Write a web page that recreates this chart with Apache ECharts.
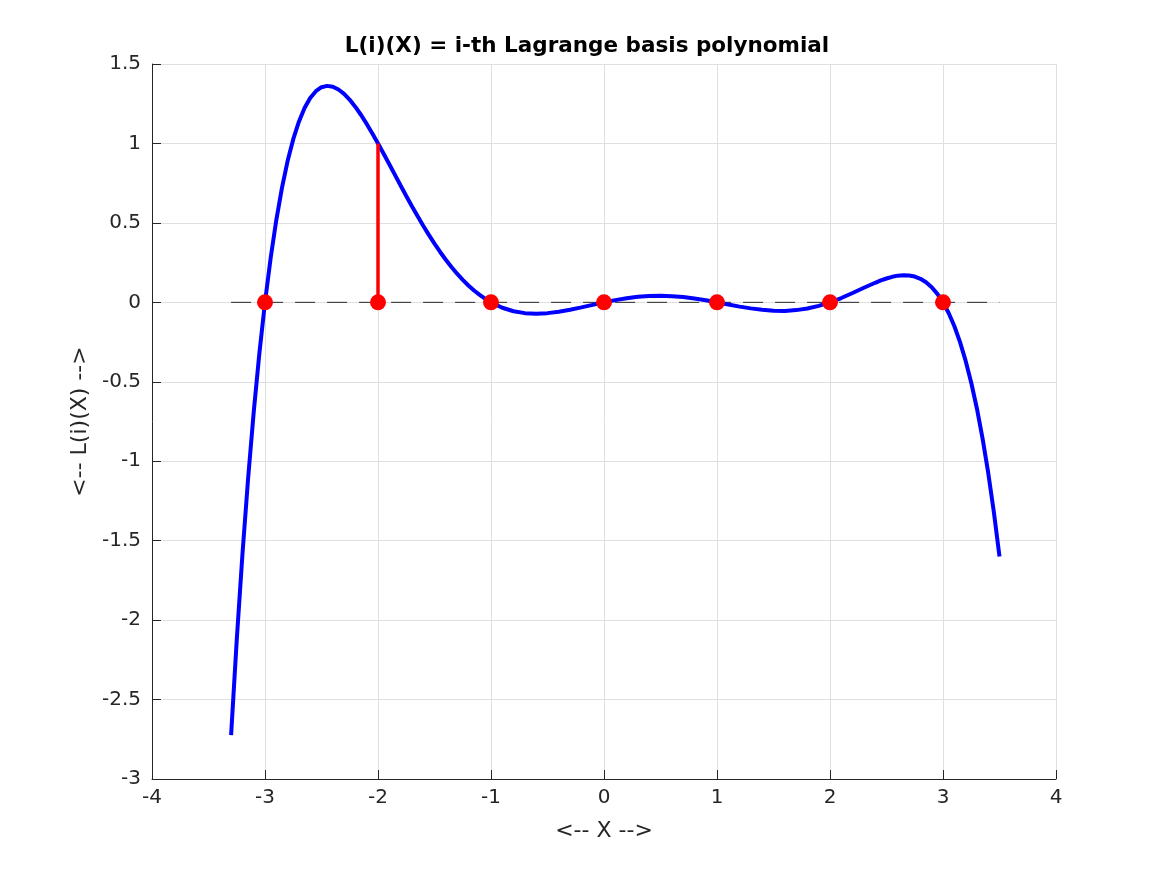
<!DOCTYPE html>
<html>
<head>
<meta charset="utf-8">
<script src="https://cdn.jsdelivr.net/npm/echarts@6/dist/echarts.min.js"></script>
<style>html,body{margin:0;padding:0;background:#fff}#c{width:1167px;height:875px}</style>
</head>
<body>
<div id="c"></div>
<script>
// Curve samples
const curveX = [-3.3,-3.25,-3.2,-3.15,-3.1,-3.05,-3.0,-2.95,-2.9,-2.85,-2.8,-2.75,-2.7,-2.65,-2.6,-2.55,-2.5,-2.45,-2.4,-2.35,-2.3,-2.25,-2.2,-2.15,-2.1,-2.05,-2.0,-1.95,-1.9,-1.85,-1.8,-1.75,-1.7,-1.65,-1.6,-1.55,-1.5,-1.45,-1.4,-1.35,-1.3,-1.25,-1.2,-1.15,-1.1,-1.05,-1.0,
  -0.9,-0.8,-0.7,-0.6,-0.5,-0.4,-0.3,-0.2,-0.1,0.0,0.1,0.2,0.3,0.4,0.5,0.6,0.7,0.8,0.9,1.0,1.1,1.2,1.3,1.4,1.5,1.6,1.7,1.8,1.9,2.0,2.1,2.2,2.3,2.4,
  2.45,2.5,2.55,2.6,2.65,2.7,2.75,2.8,2.85,2.9,2.95,3.0,3.05,3.1,3.15,3.2,3.25,3.3,3.35,3.4,3.45,3.5];
const curveY = [-2.724,-2.1245,-1.589,-1.1127,-0.692,-0.3224,0,0.2788,0.518,0.7199,0.889,1.0269,1.137,1.223,1.286,1.3287,1.354,1.3624,1.357,1.3397,1.312,1.2747,1.230,1.1791,1.123,1.063,1,0.935,0.869,0.802,0.735,0.6697,0.605,0.5427,0.482,0.4243,0.369,0.317,0.268,0.2225,0.180,0.1416,0.106,0.0747,0.047,0.0216,0,
  -0.034,-0.056,-0.068,-0.072,-0.068,-0.059,-0.047,-0.032,-0.016,0,0.014,0.026,0.035,0.040,0.041,0.039,0.033,0.024,0.013,0,-0.014,-0.027,-0.038,-0.047,-0.053,-0.054,-0.049,-0.039,-0.022,0,0.027,0.059,0.092,0.123,
  0.1378,0.150,0.1606,0.168,0.171,0.169,0.1621,0.148,0.1262,0.095,0.0535,0,-0.067,-0.149,-0.2485,-0.367,-0.5058,-0.668,-0.8562,-1.072,-1.3192,-1.600];
const nodeX = [-3,-2,-1,0,1,2,3];
const nodeY = [0,0,0,0,0,0,0];
const stemX = [-2,-2];
const stemY = [0,1];
const baseX = [-3.3,3.5];
const baseY = [0,0];
const xTicks = {min:-4,max:4,step:1};
const yTicks = {min:-3,max:1.5,step:0.5};
const titleText = 'L(i)(X) = i-th Lagrange basis polynomial';
const xLabel = '<-- X -->';
const yLabel = '<-- L(i)(X) -->';

const zip = (a,b) => a.map((v,i)=>[v,b[i]]);
const chart = echarts.init(document.getElementById('c'), null, {renderer:'canvas'});
const axisCommon = {
  axisLine:{show:true,onZero:false,lineStyle:{color:'#262626',width:1}},
  axisTick:{show:true,inside:true,length:9,lineStyle:{color:'#262626'}},
  splitLine:{show:true,lineStyle:{color:'#dfdfdf',width:1}},
  nameTextStyle:{color:'#262626',fontSize:22,fontFamily:'DejaVu Sans'}
};
chart.setOption({
  animation:false,
  backgroundColor:'#fff',
  title:{text:titleText,left:582,textAlign:'center',top:30,
    textStyle:{fontSize:21.5,fontWeight:'bold',color:'#000',fontFamily:'DejaVu Sans'}},
  grid:{left:152,right:111,top:64,bottom:96,containLabel:false},
  xAxis:Object.assign({type:'value',min:xTicks.min,max:xTicks.max,interval:xTicks.step,
    name:xLabel,nameLocation:'middle',nameGap:41},axisCommon,
    {axisLabel:{color:'#262626',fontSize:20,fontFamily:'DejaVu Sans',margin:9}}),
  yAxis:Object.assign({type:'value',min:yTicks.min,max:yTicks.max,interval:yTicks.step,
    name:yLabel,nameLocation:'middle',nameGap:56},axisCommon,
    {axisLabel:{color:'#262626',fontSize:20,fontFamily:'DejaVu Sans',margin:11}}),
  series:[
    {type:'line',data:zip(baseX,baseY),showSymbol:false,z:1,
      lineStyle:{color:'#262626',width:1,type:[20,12]}},
    {type:'line',data:zip(curveX,curveY),showSymbol:false,smooth:false,z:2,
      lineStyle:{color:'#0000ff',width:4}},
    {type:'line',data:zip(stemX,stemY),showSymbol:false,z:3,
      lineStyle:{color:'#ff0000',width:3.5}},
    {type:'scatter',data:zip(nodeX,nodeY),symbol:'circle',symbolSize:16,z:4,
      itemStyle:{color:'#ff0000',opacity:1}}
  ]
});
</script>
</body>
</html>
